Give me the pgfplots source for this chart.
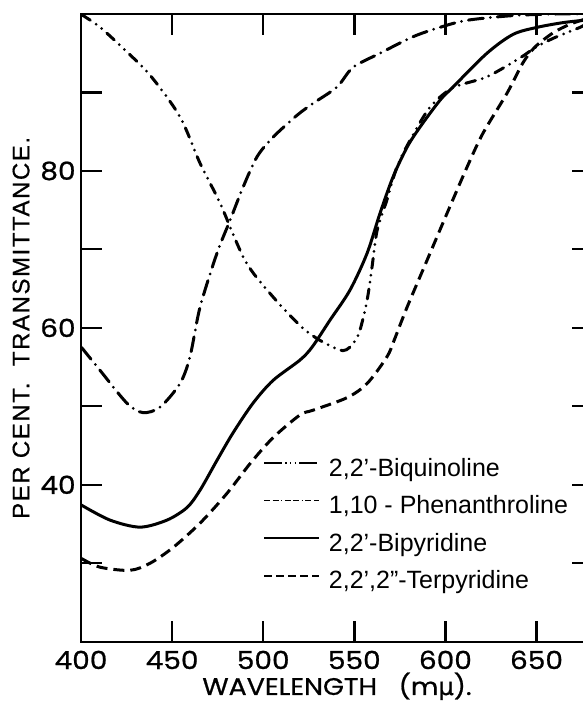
\documentclass[border=0pt]{standalone}
\usepackage{fontspec}
\setmainfont{Liberation Sans}
\newfontfamily\popfont[FakeStretch=1.12, FakeBold=0.8]{Poppins}
\newfontfamily\dvfont[FakeBold=0.8]{DejaVu Sans}
\newfontfamily\ylfont[FakeBold=0.6, LetterSpace=6.5]{Liberation Sans}
\newcommand{\lgf}{\fontsize{12.5}{14}\selectfont}
\usepackage{pgfplots}
\pgfplotsset{compat=1.18}
\begin{document}
\begin{tikzpicture}
\begin{axis}[
  scale only axis, width=256pt, height=313.85pt,
  xmin=400, xmax=681, ymin=20, ymax=100,
  xtick={400,450,500,550,600,650}, ytick={30,40,...,90},
  yticklabels={,40,,60,,80,},
  xtick pos=both, ytick pos=both,
  tick align=inside, major tick length=10.5pt,
  axis line style={line width=1.2pt},
  xtick style={line width=1.2pt, draw=black},
  ytick style={line width=1.1pt, draw=black},
  /pgf/number format/assume math mode=true,
  tick label style={font=\popfont\fontsize{12.5}{15}\selectfont},
  xticklabel style={inner sep=0pt, anchor=north, yshift=-4.5pt, text height=9pt, text depth=0pt},
  yticklabel style={inner sep=0pt, anchor=east, xshift=-2.5pt},
  xlabel={WAVELENGTH\ \ \ (m{\dvfont μ}).},
  ylabel={PER CENT.\ \ TRANSMITTANCE.},
  xlabel style={at={(axis description cs:0.50,-0.0745)}, anchor=center, inner sep=0pt,
     text height=8.5pt, text depth=2pt, font=\popfont\fontsize{12}{14}\selectfont},
  ylabel style={at={(axis description cs:-0.117,0.500)}, anchor=center, inner sep=0pt,
     font=\ylfont\fontsize{12}{13}\selectfont},
  legend style={at={(rel axis cs:0.3555,0.293)}, anchor=north west, draw=none, fill=none,
     inner sep=0pt, row sep=6.8pt, font=\lgf,
     nodes={inner sep=0pt, text height=9pt, text depth=3pt}},
  legend cell align=left,
  /tikz/every odd column/.append style={column sep=4.5pt},
  legend image code/.code={\draw[#1] (0pt,3.6pt) -- (27.5pt,3.6pt);},
]
% legend images (thin, as in the key)
\addlegendimage{line width=0.75pt, dash pattern=on 9pt off 1.6pt on 0.7pt off 1.6pt on 0.7pt off 1.6pt on 0.7pt off 1.6pt}
\addlegendentry{\lgf 2,2'-Biquinoline}
\addlegendimage{line width=0.75pt, dash pattern=on 3pt off 1.2pt on 3pt off 1.2pt on 0.7pt off 1.2pt}
\addlegendentry{\lgf 1,10 - Phenanthroline}
\addlegendimage{line width=0.75pt}
\addlegendentry{\lgf 2,2'-Bipyridine}
\addlegendimage{line width=0.75pt, dash pattern=on 4pt off 2pt}
\addlegendentry{\lgf 2,2',2''-Terpyridine}

% 2,2'-Biquinoline
\addplot[forget plot, smooth, tension=0.5, line width=1.5pt, line cap=round,
  dash pattern=on 5pt off 3.5pt on 0pt off 3.5pt on 0pt off 3.5pt] coordinates {
(400.5,99.9) (410,98.4) (421.4,96.0) (437.9,92.2) (454.3,86.9) (465.3,81.0)
(476.3,75.9) (490.0,68.6) (503.7,64.4) (520.2,60.3) (531.2,58.4) (543.8,57.1)
(550,58.2) (553.1,59.7) (557.0,63.5) (559.7,67.7) (562.5,72.4) (567.9,76.3)
(573.4,80.5) (580.6,83.9) (591.5,88.1) (604.2,90.6) (622.8,92.0) (640.9,94.4)
(649.2,95.7) (659.1,96.9) (673.9,98.3) (676,98.6)};

% 1,10-Phenanthroline
\addplot[forget plot, smooth, tension=0.5, line width=1.5pt, line cap=round,
  dash pattern=on 7.5pt off 3.5pt on 0pt off 3.5pt] coordinates {
(400.3,57.5) (410.4,54.6) (425.2,50.4) (434.0,49.2) (443.4,49.9) (454.3,52.9)
(459.8,56.3) (465.3,62.6) (474.6,69.5) (481.8,73.7) (488.9,77.9) (496.6,81.8)
(505.4,84.3) (518.6,87.1) (527.3,88.6) (540.5,90.7) (549.3,93.2) (564.1,95.0)
(582.2,97.1) (597.0,98.3) (611.9,99.2) (637.1,99.8) (660,100) (676,100)};

% 2,2'-Bipyridine
\addplot[forget plot, smooth, tension=0.5, line width=1.5pt] coordinates {
(400.3,37.4) (415.9,35.5) (432.4,34.6) (447.2,35.5) (458.2,37.1) (465.3,39.3)
(474.6,43.1) (483.4,46.6) (494.4,50.4) (505.4,53.3) (520.2,55.9) (527,57.6)
(536.7,61.0) (547.6,64.8) (557.0,69.5) (564.1,74.6) (571.2,79.2) (578.9,83.0)
(586.1,85.6) (597.0,89.0) (604.2,90.7) (622.8,95.0) (637.1,97.4) (650.3,98.3)
(664.5,98.9) (676,99.2)};

% 2,2',2''-Terpyridine
\addplot[forget plot, smooth, tension=0.5, line width=1.5pt,
  dash pattern=on 5.5pt off 3pt] coordinates {
(400.3,30.6) (410.4,29.5) (426.9,29.1) (437.9,30.0) (450.5,32.0) (465.3,35.1)
(480.1,38.9) (492.8,42.7) (505.4,46.0) (520.2,48.9) (527.3,49.5) (546.0,51.1)
(557.0,52.9) (567.9,56.3) (572,58.5) (578.9,62.6) (589.9,68.6) (600.9,74.6)
(611.9,80.5) (620.6,84.8) (633.8,89.9) (642.6,93.8) (649.2,95.8) (659.1,97.6)
(668.4,98.7) (676,99.3)};
\end{axis}
\pgfresetboundingbox
\path[use as bounding box] (-40.5pt,-30.15pt) rectangle (251pt,320.85pt);
\end{tikzpicture}
\end{document}
